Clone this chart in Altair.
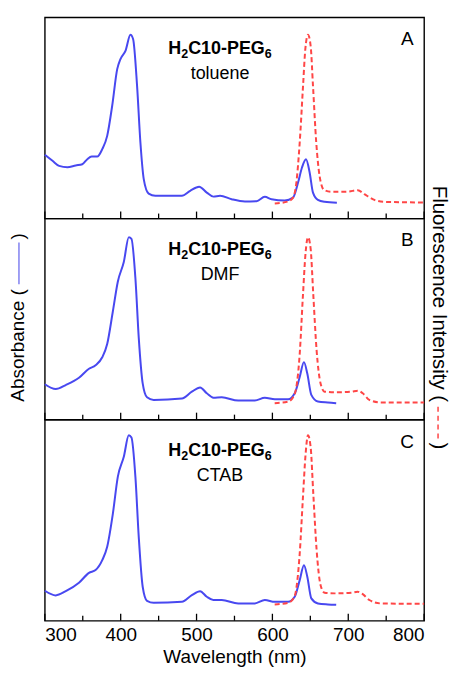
import altair as alt
import pandas as pd

# ---------------- data ----------------
TICK_MAJOR = [300, 400, 500, 600, 700, 800]
TICK_MINOR = [350, 450, 550, 650, 750]

# Panel A : toluene
A_abs_x = [300, 310.1, 318.8, 329.7, 340.7, 349.4, 356, 361.7, 369.1, 375.7, 382.2, 388.8, 395.4, 399.7,
           406.3, 412.9, 416.4, 421.6, 426, 430.4, 436.9, 445.7, 480.7, 491.6, 503.4, 513.5, 522.2, 531,
           546.3, 563.8, 579.1, 590, 598.8, 616.3, 627.2, 633.8, 639, 644.3, 649.1, 653.5, 660, 668.8, 685]
A_abs_y = [0.317, 0.287, 0.262, 0.255, 0.264, 0.270, 0.295, 0.308, 0.308, 0.345, 0.411, 0.561, 0.743, 0.793,
           0.834, 0.914, 0.892, 0.660, 0.378, 0.196, 0.124, 0.113, 0.113, 0.138, 0.158, 0.129, 0.109, 0.113,
           0.096, 0.085, 0.086, 0.108, 0.096, 0.090, 0.104, 0.179, 0.254, 0.295, 0.229, 0.129, 0.093, 0.083, 0.078]
A_fl_x = [603.1, 620.6, 627.2, 631.6, 636, 640.4, 643.4, 646.9, 650.4, 653.5, 657.8, 662.2, 667.9, 677.5,
          699.4, 712.5, 721.3, 734.4, 747.5, 800]
A_fl_y = [0.075, 0.085, 0.104, 0.179, 0.378, 0.660, 0.843, 0.914, 0.859, 0.660, 0.378, 0.212, 0.143, 0.133,
          0.134, 0.141, 0.121, 0.093, 0.083, 0.080]

# Panel B : DMF
B_abs_x = [300, 314.4, 327.6, 345, 358.2, 366.9, 375.7, 382.2, 389.7, 396.2, 404.1, 410.7, 414.2, 419.4,
           423.8, 429, 434.7, 443.5, 480.7, 493.8, 504.7, 513.5, 522.2, 533.2, 555, 576.9, 590, 603.2,
           620.6, 629.4, 636, 641.6, 646, 651.3, 660, 673.1, 684.1]
B_abs_y = [0.176, 0.152, 0.172, 0.208, 0.253, 0.270, 0.310, 0.376, 0.539, 0.686, 0.784, 0.907, 0.899, 0.703,
           0.408, 0.180, 0.111, 0.098, 0.105, 0.139, 0.160, 0.131, 0.109, 0.111, 0.095, 0.095, 0.109, 0.101,
           0.101, 0.131, 0.212, 0.286, 0.229, 0.123, 0.090, 0.085, 0.082]
B_fl_x = [603, 621, 629, 636, 640.3, 643.8, 646.9, 650.4, 653.9, 658.3, 663.5, 668.8, 681.9, 703.8, 712.5,
          719.1, 727.8, 743.1, 800]
B_fl_y = [0.082, 0.090, 0.123, 0.327, 0.621, 0.833, 0.907, 0.850, 0.621, 0.343, 0.180, 0.139, 0.136, 0.139,
          0.144, 0.131, 0.098, 0.085, 0.085]

# Panel C : CTAB
C_abs_x = [300, 314.4, 327.6, 345, 358.2, 366.9, 375.7, 382.2, 389.7, 396.2, 404.1, 410.7, 414.2, 419.4,
           423.8, 429, 434.7, 443.5, 480.7, 493.8, 504.7, 513.5, 522.2, 533.2, 555, 576.9, 590, 603.2,
           620.6, 629.4, 636, 641.6, 646, 651.3, 660, 673.1, 684.1]
C_abs_y = [0.149, 0.126, 0.147, 0.189, 0.238, 0.252, 0.301, 0.368, 0.533, 0.715, 0.815, 0.922, 0.911, 0.715,
           0.417, 0.169, 0.099, 0.089, 0.094, 0.127, 0.147, 0.119, 0.103, 0.103, 0.086, 0.086, 0.103, 0.094,
           0.094, 0.119, 0.202, 0.276, 0.219, 0.111, 0.086, 0.081, 0.079]
C_fl_x = [603, 621, 629, 636, 640.3, 643.8, 646.9, 650.4, 653.9, 658.3, 663.5, 668.8, 681.9, 703.8, 712.5,
          719.1, 727.8, 743.1, 800]
C_fl_y = [0.081, 0.089, 0.119, 0.334, 0.616, 0.831, 0.922, 0.864, 0.632, 0.351, 0.177, 0.139, 0.136, 0.139,
          0.144, 0.132, 0.103, 0.086, 0.084]

# compound name as runs: (text, is_subscript)
COMPOUND_RUNS = [("H", False), ("2", True), ("C10-PEG", False), ("6", True)]
SOLVENTS = ["toluene", "DMF", "CTAB"]
LETTERS = ["A", "B", "C"]

# ---------------- styling ----------------
W, H = 381, 202
FONT = "Liberation Sans"
BLUE = "#4848f0"
RED = "#ff4646"

one = pd.DataFrame({"k": [0]})


def xs():
    return alt.Scale(domain=[300, 800], nice=False, zero=False)


def ys():
    return alt.Scale(domain=[0, 1], nice=False, zero=False)


def text_layer(txt, x, y, size, weight="normal", align="center", angle=0, color="black",
               baseline="middle"):
    return alt.Chart(one).mark_text(
        text=txt, font=FONT, fontSize=size, fontWeight=weight, align=align,
        baseline=baseline, angle=angle, color=color
    ).encode(x=alt.value(x), y=alt.value(y))


# approximate advance widths (em) of Liberation Sans Bold for the compound label
BOLD_EM = {"H": .722, "C": .722, "1": .556, "0": .556, "-": .333, "P": .667, "E": .667,
           "G": .778, "2": .556, "6": .556}


def compound_layers(cx, base_y, size=18, sub_size=12.5, sub_drop=4.5):
    widths = []
    for txt, sub in COMPOUND_RUNS:
        s = sub_size if sub else size
        widths.append(sum(BOLD_EM[c] for c in txt) * s)
    x = cx - sum(widths) / 2
    out = []
    for (txt, sub), w in zip(COMPOUND_RUNS, widths):
        out.append(text_layer(txt, x, base_y + (sub_drop if sub else 0), sub_size if sub else size,
                              weight="bold", align="left", baseline="alphabetic"))
        x += w
    return out


def panel(ax, ay, fx, fy, solvent, letter, bottom, extra=None):
    if bottom:
        xaxis = alt.Axis(values=TICK_MAJOR, ticks=False, domain=False, grid=False,
                         labelFont=FONT, labelFontSize=19, labelColor="black", labelPadding=5,
                         title="Wavelength (nm)", titleFont=FONT, titleFontSize=19,
                         titleFontWeight="normal", titleColor="black", titlePadding=3)
    else:
        xaxis = None
    absd = pd.DataFrame({"wl": ax, "v": ay})
    fld = pd.DataFrame({"wl": fx, "v": fy})
    xenc = lambda f: alt.X(f, scale=xs(), axis=xaxis, title="Wavelength (nm)")
    abs_line = alt.Chart(absd).mark_line(color=BLUE, strokeWidth=2, interpolate="monotone").encode(
        x=xenc("wl:Q"), y=alt.Y("v:Q", scale=ys(), axis=None),
    )
    fl_line = alt.Chart(fld).mark_line(color=RED, strokeWidth=2, strokeDash=[5, 3],
                                        interpolate="monotone").encode(
        x=xenc("wl:Q"), y=alt.Y("v:Q", scale=ys(), axis=None),
    )
    major = alt.Chart(pd.DataFrame({"wl": TICK_MAJOR})).mark_rule(color="black", strokeWidth=1.3).encode(
        x=xenc("wl:Q"), y=alt.value(H), y2=alt.value(H - 7))
    minor = alt.Chart(pd.DataFrame({"wl": TICK_MINOR})).mark_rule(color="black", strokeWidth=1.3).encode(
        x=xenc("wl:Q"), y=alt.value(H), y2=alt.value(H - 5))
    layers = [abs_line, fl_line, major, minor]
    layers += compound_layers(176, 36.5)
    layers += [text_layer(solvent, 176, 57, 18), text_layer(letter, 364, 22, 19)]
    if extra:
        layers += extra
    return alt.layer(*layers).properties(width=W, height=H)


# axis titles with inline line symbols, placed beside the middle panel
left_title = [
    text_layer("Absorbance (", -27, 71, 19, align="right", angle=270),
    alt.Chart(one).mark_rule(color="#8080f0", strokeWidth=1.5).encode(
        x=alt.value(-26), y=alt.value(24), y2=alt.value(66)),
    text_layer(")", -27, 21, 19, align="left", angle=270),
]
right_title = [
    text_layer("Fluorescence Intensity (", 396, -33, 20.5, align="left", angle=90),
    alt.Chart(one).mark_rule(color=RED, strokeWidth=1.5, strokeDash=[5, 4]).encode(
        x=alt.value(395), y=alt.value(189), y2=alt.value(222)),
    text_layer(")", 396, 225, 20.5, align="left", angle=90),
]

pA = panel(A_abs_x, A_abs_y, A_fl_x, A_fl_y, SOLVENTS[0], LETTERS[0], False)
pB = panel(B_abs_x, B_abs_y, B_fl_x, B_fl_y, SOLVENTS[1], LETTERS[1], False, left_title + right_title)
pC = panel(C_abs_x, C_abs_y, C_fl_x, C_fl_y, SOLVENTS[2], LETTERS[2], True)

chart = alt.vconcat(pA, pB, pC, spacing=0, bounds="flush").properties(
    padding={"left": 0, "top": 7, "right": 0, "bottom": 0},
    background="white",
).configure_view(stroke="black", strokeWidth=1.4)

chart.save("out.html", embed_options={"renderer": "svg", "actions": False})
